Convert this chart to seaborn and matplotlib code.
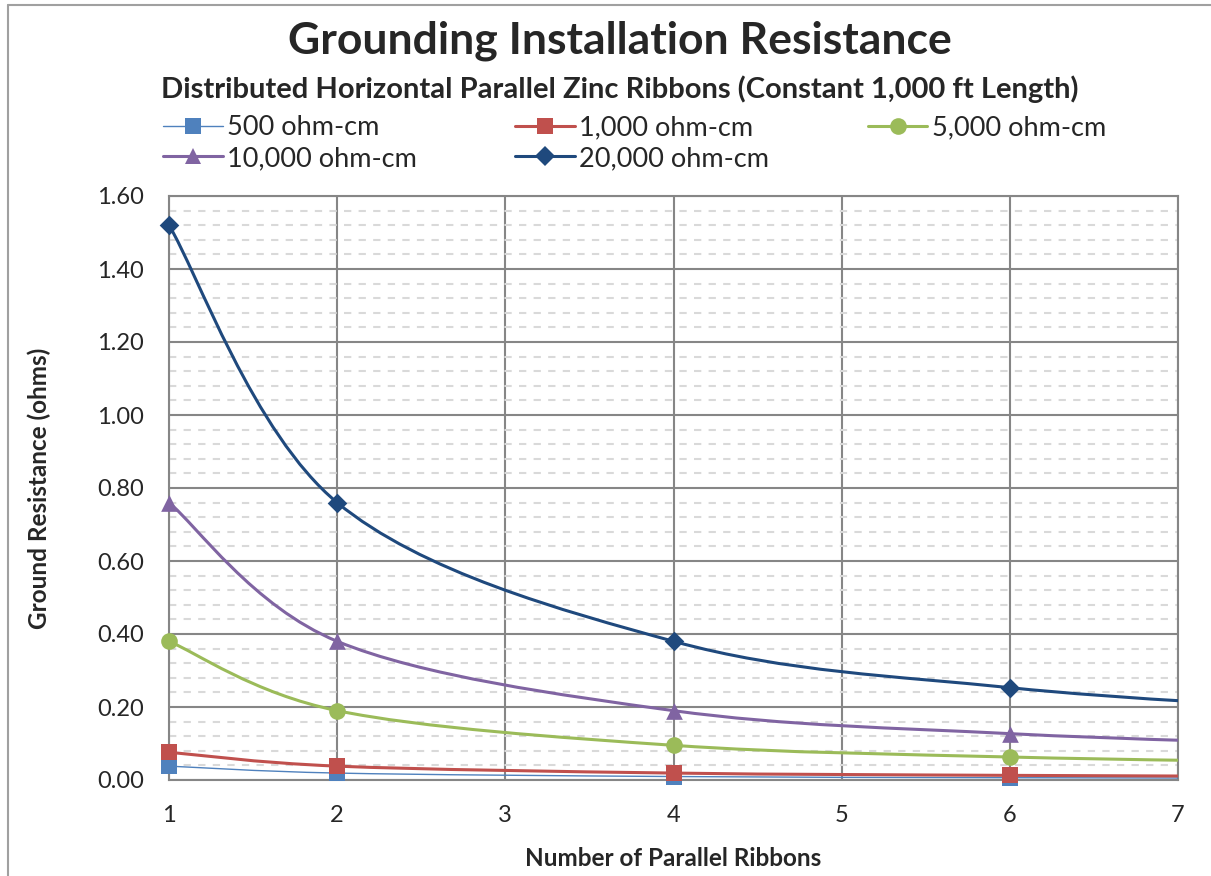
import numpy as np
import pandas as pd
import matplotlib
matplotlib.use("Agg")
import matplotlib.pyplot as plt
from matplotlib.path import Path
from matplotlib.patches import PathPatch
from matplotlib.lines import Line2D
import seaborn as sns

# ---- data ----
ribbons = [1, 2, 4, 6, 8]
r_500 = [0.038, 0.019, 0.0095, 0.0063, 0.00475]
r_1000 = [0.076, 0.038, 0.019, 0.0127, 0.0095]
r_5000 = [0.38, 0.19, 0.095, 0.063, 0.0475]
r_10000 = [0.76, 0.38, 0.19, 0.127, 0.095]
r_20000 = [1.52, 0.76, 0.38, 0.253, 0.19]
series_names = ["500 ohm-cm", "1,000 ohm-cm", "5,000 ohm-cm", "10,000 ohm-cm", "20,000 ohm-cm"]
series_vals = [r_500, r_1000, r_5000, r_10000, r_20000]
x_ticks = [1, 2, 3, 4, 5, 6, 7]
y_ticks = [0.0, 0.2, 0.4, 0.6, 0.8, 1.0, 1.2, 1.4, 1.6]

colors = ["#4F81BD", "#C0504D", "#9BBB59", "#8064A2", "#1F497D"]
markers = ["s", "s", "o", "^", "D"]
msizes = [11.5, 11.5, 12, 12, 10]
lwidths = [1.0, 2.2, 2.2, 2.2, 2.2]

sns.set_style("white")
plt.rcParams["font.family"] = ["Lato", "DejaVu Sans"]

fig = plt.figure(figsize=(12.11, 8.76), dpi=100)
ax = fig.add_axes([169/1211, 1-780/876, (1178-169)/1211, (780-196)/876])

def smooth_path(xs, ys):
    # Excel-style smoothed line: cubic Bezier through the data points
    pts = np.column_stack([xs, ys]).astype(float)
    n = len(pts)
    verts = [pts[0]]
    codes = [Path.MOVETO]
    for i in range(n - 1):
        p0 = pts[i - 1] if i > 0 else pts[i]
        p1 = pts[i]
        p2 = pts[i + 1]
        p3 = pts[i + 2] if i + 2 < n else pts[i + 1]
        c1 = p1 + (p2 - p0) / 6.0
        c2 = p2 - (p3 - p1) / 6.0
        verts += [c1, c2, p2]
        codes += [Path.CURVE4] * 3
    return Path(verts, codes)

for name, vals, c, m, ms, lw in zip(series_names, series_vals, colors, markers, msizes, lwidths):
    patch = PathPatch(smooth_path(ribbons, vals), facecolor="none", edgecolor=c,
                      lw=lw, zorder=3, capstyle="butt")
    ax.add_patch(patch)
    d = pd.DataFrame({"x": ribbons, "y": vals})
    d = d[d["x"] <= 7]
    sns.scatterplot(data=d, x="x", y="y", marker=m, s=ms ** 2, color=c,
                    edgecolor=c, linewidth=0, ax=ax, zorder=4, clip_on=False)

ax.set_xlim(1, 7)
ax.set_ylim(0, 1.6)
ax.set_xticks(x_ticks)
ax.set_yticks(y_ticks)
ax.set_yticklabels([f"{v:.2f}" for v in y_ticks])
ax.set_yticks(np.arange(0, 1.6001, 0.04), minor=True)

ax.grid(True, which="major", color="#868686", lw=1.5, zorder=1)
ax.grid(True, which="minor", axis="y", color="#d9d9d9", lw=1.5, ls=(0, (3.5, 3.5)), zorder=0)
for s in ax.spines.values():
    s.set_color("#868686")
    s.set_linewidth(1.5)
ax.tick_params(axis="x", which="major", direction="out", length=6, width=1.5, color="#868686",
               labelsize=17, pad=12)
ax.tick_params(axis="y", which="major", length=0, labelsize=17, pad=18)
ax.tick_params(axis="y", which="minor", direction="in", length=5, width=1.5, color="#868686")
ax.set_xlabel("Number of Parallel Ribbons", fontsize=17.5, fontweight="bold", labelpad=15)
ax.set_ylabel("Ground Resistance (ohms)", fontsize=17.5, fontweight="bold", labelpad=33)
ax.set_axisbelow(True)

fig.text(620/1211, 1-41/876, "Grounding Installation Resistance", ha="center", va="center",
         fontsize=32, fontweight="bold")
fig.text(620/1211, 1-89/876, "Distributed Horizontal Parallel Zinc Ribbons (Constant 1,000 ft Length)",
         ha="center", va="center", fontsize=21, fontweight="bold")

handles = [Line2D([0], [0], color=c, lw=lw, marker=m, markersize=ms, markeredgewidth=0)
           for c, m, ms, lw in zip(colors, markers, msizes, lwidths)]
order = [0, 3, 1, 4, 2]
leg = fig.legend([handles[i] for i in order], [series_names[i] for i in order],
                 loc="upper left", bbox_to_anchor=(163/1211, 1-115/876), ncol=3, frameon=False,
                 fontsize=19.5, handlelength=2.2, handletextpad=0.15, columnspacing=3.65,
                 labelspacing=0.22, borderaxespad=0, borderpad=0)

fig.add_artist(Line2D([8/1211, 8/1211], [0, 1-5/876], color="#a0a0a0", lw=1.5))
fig.add_artist(Line2D([8/1211, 1], [1-5/876, 1-5/876], color="#a0a0a0", lw=1.5))

fig.savefig("out.png", dpi=100)
